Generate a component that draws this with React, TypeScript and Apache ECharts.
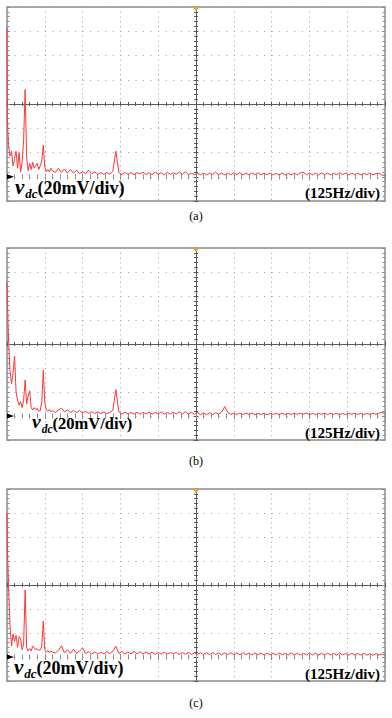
import React, { useEffect, useRef } from 'react';
import * as echarts from 'echarts';

// Frequency samples (Hz), shared by the three spectra
const freq = [
  0, 1, 5, 10, 15, 20, 25, 30, 35, 40, 45, 50, 55, 60, 65, 70, 75, 80, 85, 90, 95, 100, 105, 110, 115, 120, 125, 130, 135, 140, 145, 150,
  160, 170, 180, 190, 200, 210, 220, 230, 240, 250,
  260, 270, 280, 290, 300, 310, 320, 330, 340, 350,
  360, 370, 380, 390, 400, 410, 420, 430, 440, 450,
  460, 470, 480, 490, 500, 510, 520, 530, 540, 550,
  560, 570, 580, 590, 600, 610, 620, 630, 640, 650,
  660, 670, 680, 690, 700, 710, 720, 730, 740, 750,
  760, 770, 780, 790, 800, 810, 820, 830, 840, 850,
  860, 870, 880, 890, 900, 910, 920, 930, 940, 950,
  960, 970, 980, 990, 1000, 1010, 1020, 1030, 1040, 1050,
  1060, 1070, 1080, 1090, 1100, 1110, 1120, 1130, 1140, 1150,
  1160, 1170, 1180, 1190, 1200, 1210, 1220, 1230, 1240, 1250,
];

// v_dc spectrum amplitudes (mV)
const spectrumA = [
  123, 50, 26, 17, 21, 9, 15, 21, 7, 20, 4, 12, 30, 72, 16, 5, 11, 6, 12, 7, 9, 11, 6, 9, 13, 26, 8, 4, 6, 4, 7, 5,
  3.5, 7, 3.5, 6.5, 3, 6, 3, 5.5, 2.5, 4,
  2.5, 5.5, 2.5, 4, 2, 3.5, 2, 3.5, 2, 4.5,
  21, 3.5, 1.8, 3.6, 2, 3.4, 1.6, 3.5, 2.2, 3.8,
  1.8, 3.4, 1.7, 3.9, 2.2, 3.3, 1.6, 3.6, 2, 3.4,
  2.1, 3.8, 2.2, 4.2, 1.8, 2.9, 1.6, 2.8, 1.7, 3,
  1.6, 2.9, 1.8, 3.8, 1.7, 3, 1.5, 3.1, 1.6, 3.2,
  1.7, 3.4, 1.5, 3, 1.6, 3.2, 1.7, 3.3, 1.5, 2.9,
  1.7, 3.1, 1.4, 2.8, 1.6, 3, 1.4, 2.7, 1.5, 2.9,
  1.6, 3.2, 3.6, 1.7, 3.1, 1.5, 3, 1.6, 3.2, 1.7,
  3, 1.5, 2.9, 1.7, 3.3, 1.8, 3.1, 1.6, 3, 1.7,
  2.9, 1.5, 2.8, 1.6, 3, 1.7, 2.5, 2.9, 1.3, 1.2,
];

const spectrumB = [
  111, 100, 64, 38, 27, 36, 50, 20, 13, 9, 12, 7, 13, 30, 10, 17, 21, 7, 5, 7, 5, 6.5, 4, 4.5, 12, 38, 11, 5, 4, 5.5, 3.5, 4.5,
  3, 5, 6.5, 3.5, 5, 3, 4.5, 3, 4.5, 2.5,
  3.8, 2.2, 3.6, 2, 3.4, 2, 3.2, 1.8, 3, 4.8,
  22, 3.4, 1.6, 3.2, 1.5, 3, 1.6, 3.2, 1.5, 3,
  1.6, 3.3, 1.5, 3, 1.7, 3.4, 1.5, 3, 1.6, 3.2,
  1.7, 3.4, 1.8, 3.6, 1.6, 3, 1.3, 2.8, 1.2, 2.6,
  1.1, 2.7, 1.2, 2.8, 1.5, 3.4, 7.8, 3, 1.4, 2.4,
  1.2, 2.4, 1.3, 2.3, 1.4, 2.4, 1.2, 2.2, 1.3, 2.3,
  1.1, 2.1, 1.3, 2.2, 1.2, 2.3, 1.1, 2.1, 1.3, 2.3,
  1.4, 2.4, 1.5, 2.5, 1.2, 2.2, 1.1, 2.3, 1.4, 2.4,
  1.2, 2.3, 1.3, 2.2, 1.1, 2.1, 1.3, 2.3, 1.5, 2.4,
  1.3, 2.3, 1.2, 2.1, 1.3, 2.2, 1.5, 2.4, 3, 2,
];

const spectrumC = [
  120, 95, 60, 26, 9, 19, 13, 18, 8, 17, 15, 6, 11, 56, 8, 5, 7, 5, 9, 8, 6, 7, 5.5, 6, 9, 30, 6, 4, 5.5, 3.5, 5, 4,
  3.5, 5.5, 9.4, 3.5, 6, 3, 6.5, 3, 5, 7.5,
  3, 4.5, 2.5, 4.2, 2.5, 4, 2.6, 4.4, 3, 4.8,
  9, 2.8, 4.6, 2.4, 4.2, 2.6, 4.6, 2.4, 4.4, 2.6,
  4.2, 2.4, 4, 2.2, 3.9, 2.4, 4.1, 2.3, 3.8, 2.4,
  3.9, 2.2, 3.7, 2.4, 3.8, 2.1, 3.5, 2, 3.6, 2.1,
  3.5, 1.9, 3.7, 2, 3.5, 1.8, 3.4, 2, 3.6, 1.9,
  3.4, 1.8, 3.5, 2, 3.3, 1.7, 3.4, 1.9, 3.2, 1.7,
  3.3, 1.8, 3.2, 1.7, 3.4, 1.9, 3.1, 1.6, 3.3, 1.8,
  3.2, 1.7, 3.1, 1.8, 3.3, 1.7, 3.2, 1.6, 3.1, 1.8,
  3.2, 1.7, 3.1, 1.6, 3.3, 1.8, 3, 1.5, 3.1, 1.7,
  3, 1.6, 3.1, 1.5, 2.8, 1.4, 2.9, 1.5, 2.7, 1.3,
];

const spectra = [spectrumA, spectrumB, spectrumC];
const panelLabels = ['(a)', '(b)', '(c)'];
const voltageScale = '(20mV/div)';
const freqScale = '(125Hz/div)';

// axis ranges (10 x 8 divisions)
const X_MIN = 0;
const X_MAX = 1250;
const X_DIV = 125;
const Y_MIN = -20;
const Y_MAX = 140;
const Y_DIV = 20;

const SERIF = "'Liberation Serif', 'Times New Roman', serif";

const layout = [
  { top: 7, height: 194, vTop: 176, vLeft: 15, vFont: 18, hTop: 185, subTop: 210 },
  { top: 248, height: 192, vTop: 411.5, vLeft: 32, vFont: 16.5, hTop: 425.5, subTop: 455 },
  { top: 489, height: 192, vTop: 656, vLeft: 14, vFont: 18, hTop: 666, subTop: 697 },
];
const LEFT = 7;
const WIDTH = 378;

const BORDER = '#8c8c8c';
const CENTER = '#5a5a5a';
const DOT = '#9e9e9e';
const TRACE = '#ff3535';

export default function App() {
  const ref = useRef<HTMLDivElement>(null);

  useEffect(() => {
    const chart = echarts.init(ref.current!, null, { renderer: 'svg' });

    const grids: any[] = [];
    const xAxes: any[] = [];
    const yAxes: any[] = [];
    const series: any[] = [];
    const titles: any[] = [];

    const tickCfg = (inside: boolean, color: string, len: number) => ({
      axisTick: { show: true, inside, length: len, lineStyle: { color, width: 1 } },
      minorTick: { show: true, splitNumber: 5, length: len - 0.5, lineStyle: { color, width: 1 } },
    });

    layout.forEach((L, g) => {
      grids.push({
        left: LEFT,
        top: L.top,
        width: WIDTH,
        height: L.height,
        show: true,
        borderColor: BORDER,
        borderWidth: 1.5,
        backgroundColor: 'transparent',
        containLabel: false,
      });
      const xBase = { type: 'value', gridIndex: g, min: X_MIN, max: X_MAX, interval: X_DIV, axisLabel: { show: false } };
      const yBase = { type: 'value', gridIndex: g, min: Y_MIN, max: Y_MAX, interval: Y_DIV, axisLabel: { show: false } };
      // x axes: main(bottom, dotted verticals), top ticks, center line up ticks, center down ticks
      xAxes.push({
        ...xBase,
        position: 'bottom',
        axisLine: { show: false },
        ...tickCfg(true, BORDER, 3),
        splitLine: { show: true, lineStyle: { color: DOT, width: 1, type: [1, 3.8] } },
      });
      xAxes.push({ ...xBase, position: 'top', axisLine: { show: false }, ...tickCfg(true, BORDER, 3), splitLine: { show: false } });
      xAxes.push({
        ...xBase,
        position: 'bottom',
        offset: -L.height / 2,
        axisLine: { show: true, onZero: false, lineStyle: { color: CENTER, width: 1 } },
        ...tickCfg(true, CENTER, 2.5),
        splitLine: { show: false },
      });
      xAxes.push({
        ...xBase,
        position: 'bottom',
        offset: -L.height / 2,
        axisLine: { show: false, onZero: false },
        ...tickCfg(false, CENTER, 2.5),
        splitLine: { show: false },
      });
      // y axes
      yAxes.push({
        ...yBase,
        position: 'left',
        axisLine: { show: false, onZero: false },
        ...tickCfg(true, BORDER, 3),
        splitLine: { show: true, lineStyle: { color: DOT, width: 1, type: [1, 6.56] } },
      });
      yAxes.push({ ...yBase, position: 'right', axisLine: { show: false, onZero: false }, ...tickCfg(true, BORDER, 3), splitLine: { show: false } });
      yAxes.push({
        ...yBase,
        position: 'left',
        offset: -WIDTH / 2,
        axisLine: { show: true, onZero: false, lineStyle: { color: CENTER, width: 1 } },
        ...tickCfg(true, CENTER, 2.5),
        splitLine: { show: false },
      });
      yAxes.push({
        ...yBase,
        position: 'left',
        offset: -WIDTH / 2,
        axisLine: { show: false, onZero: false },
        ...tickCfg(false, CENTER, 2.5),
        splitLine: { show: false },
      });

      series.push({
        type: 'line',
        xAxisIndex: g * 4,
        yAxisIndex: g * 4,
        data: freq.map((f, i) => [f, spectra[g][i]]),
        symbol: 'none',
        showSymbol: false,
        lineStyle: { color: TRACE, width: 1 },
        z: 5,
        markPoint: {
          label: { show: false },
          data: [
            {
              coord: [X_MIN, 0],
              symbol: 'triangle',
              symbolRotate: -90,
              symbolSize: [5, 7],
              symbolOffset: [3.5, 0],
              itemStyle: { color: '#000' },
            },
            {
              coord: [(X_MIN + X_MAX) / 2, Y_MAX],
              symbol: 'triangle',
              symbolRotate: 180,
              symbolSize: [7, 4],
              symbolOffset: [0, 2],
              itemStyle: { color: '#f0a030' },
            },
          ],
        },
      });

      titles.push({
        text: `{v|v}{s|dc}{t|${voltageScale}}`,
        left: L.vLeft,
        top: L.vTop,
        padding: 0,
        textStyle: {
          rich: {
            v: { fontFamily: SERIF, fontStyle: 'italic', fontWeight: 'bold', fontSize: L.vFont + 3, color: '#000', verticalAlign: 'bottom', padding: [0, 1, 3, 0] },
            s: { fontFamily: SERIF, fontStyle: 'italic', fontWeight: 'bold', fontSize: L.vFont - 5, color: '#000', verticalAlign: 'bottom', padding: [0, 0, 0, 0] },
            t: { fontFamily: SERIF, fontWeight: 'bold', fontSize: L.vFont, color: '#000', verticalAlign: 'bottom', padding: [0, 0, 3, 0] },
          },
        },
      });
      titles.push({
        text: freqScale,
        right: 12,
        top: L.hTop,
        padding: 0,
        textStyle: { fontFamily: SERIF, fontWeight: 'bold', fontSize: 15, color: '#000' },
      });
      titles.push({
        text: panelLabels[g],
        left: 'center',
        top: L.subTop,
        padding: 0,
        textStyle: { fontFamily: SERIF, fontWeight: 'normal', fontSize: 12, color: '#000' },
      });
    });

    chart.setOption({
      animation: false,
      backgroundColor: '#fff',
      title: titles,
      grid: grids,
      xAxis: xAxes,
      yAxis: yAxes,
      series,
    });

    return () => chart.dispose();
  }, []);

  return (
    <div
      ref={ref}
      style={{ position: 'fixed', left: 0, top: 0, width: 392, height: 718, background: '#fff' }}
    />
  );
}
